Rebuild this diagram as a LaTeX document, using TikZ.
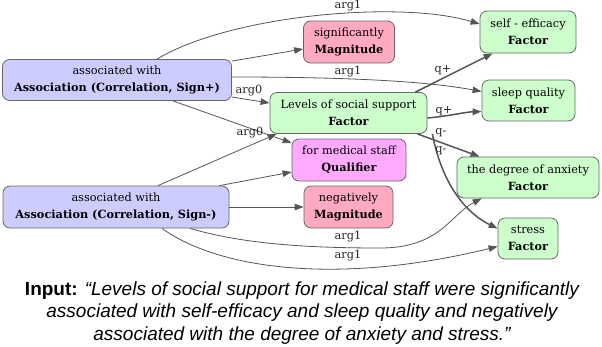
\documentclass[tikz,border=0pt]{standalone}
\usepackage{fontspec}
\setmainfont{DejaVu Serif}
\newfontfamily\capfont{Liberation Sans}
\usetikzlibrary{arrows.meta,calc}
\definecolor{assocblue}{HTML}{CCCCFF}
\definecolor{factgreen}{HTML}{CCFFCC}
\definecolor{magpink}{HTML}{FFAAC0}
\definecolor{qualpink}{HTML}{FFAAFF}
\definecolor{bordergrey}{HTML}{666666}
\definecolor{edgegrey}{HTML}{555555}
\begin{document}
\begin{tikzpicture}[x=1pt,y=-1pt,
 box/.style={draw=bordergrey, rounded corners=7pt, align=center, font=\fontsize{11.3}{17}\selectfont, inner sep=0pt, line width=0.8pt},
 assoc/.style={box, fill=assocblue},
 fact/.style={box, fill=factgreen},
 mag/.style={box, fill=magpink},
 qual/.style={box, fill=qualpink},
 edge/.style={draw=edgegrey, line width=0.8pt, -{Triangle[length=9pt,width=6.5pt]}},
 qedge/.style={edge, line width=1.5pt},
 lab/.style={font=\fontsize{11.3}{12}\selectfont, inner sep=0pt, text=black!85}
]
\useasboundingbox (0,0) rectangle (602,346);

\node[assoc, minimum width=229pt, minimum height=41pt] (A1) at (117,80) {associated with\\\textbf{Association (Correlation, Sign+)}};
\node[assoc, minimum width=226pt, minimum height=42pt] (A2) at (116,207) {associated with\\\textbf{Association (Correlation, Sign-)}};
\node[mag, minimum width=91pt, minimum height=42pt] (M1) at (349,42) {significantly\\\textbf{Magnitude}};
\node[fact, minimum width=96pt, minimum height=42pt] (SE) at (528,32) {self - efficacy\\\textbf{Factor}};
\node[fact, minimum width=93pt, minimum height=41pt] (SQ) at (528.5,100.5) {sleep quality\\\textbf{Factor}};
\node[fact, minimum width=157pt, minimum height=41pt] (L) at (348.5,113) {Levels of social support\\\textbf{Factor}};
\node[qual, minimum width=114pt, minimum height=42pt] (Q) at (349,160) {for medical staff\\\textbf{Qualifier}};
\node[mag, minimum width=89pt, minimum height=42pt] (M2) at (348.5,207) {negatively\\\textbf{Magnitude}};
\node[fact, minimum width=142pt, minimum height=41pt] (AX) at (528,177.5) {the degree of anxiety\\\textbf{Factor}};
\node[fact, minimum width=60pt, minimum height=41pt] (ST) at (528,238.5) {stress\\\textbf{Factor}};

% Association (Sign+)
\draw[edge] ($(A1.north)+(40,0)$) .. controls (230,15) and (400,0) .. ($(SE.west)+(0,-8)$)
  node[lab, at={(348,6)}] {arg1};
\draw[edge] ($(A1.north east)+(0,2)$) -- ($(M1.west)+(0,7)$);
\draw[edge] ($(A1.east)+(0,-3)$) .. controls (330,77) and (420,80) .. ($(SQ.west)+(0,-9)$)
  node[lab, at={(348,72)}] {arg1};
\draw[edge] ($(A1.east)+(0,17)$) -- ($(L.west)+(0,-10)$)
  node[lab, at={(249,91)}] {arg0};
\draw[edge] ($(A1.south)+(56,0)$) -- ($(Q.west)+(0,-17)$);

% Association (Sign-)
\draw[edge] ($(A2.north)+(42,0)$) -- ($(L.south west)+(7,0)$)
  node[lab, at={(250,133)}] {arg0};
\draw[edge] ($(A2.north east)+(-10,0)$) -- ($(Q.west)+(0,12)$);
\draw[edge] (A2.east) -- (M2.west);
\draw[edge] ($(A2.south)+(74,0)$) .. controls (240,243) and (300,248) .. (380,248)
  .. controls (440,248) and (450,215) .. ($(AX.south west)+(25,0)$)
  node[lab, at={(348,237)}] {arg1};
\draw[edge] ($(A2.south)+(46,0)$) .. controls (220,270) and (340,285) .. ($(ST.west)+(0,8)$)
  node[lab, at={(348,256)}] {arg1};

% Levels of social support
\draw[qedge] ($(L.north east)+(-12,0)$) -- ($(SE.south west)+(13,0)$)
  node[lab, at={(443,70)}] {q+};
\draw[qedge] ($(L.east)+(0,5)$) .. controls (450,116) and (465,112) .. ($(SQ.west)+(0,11)$)
  node[lab, at={(444,111)}] {q+};
\draw[qedge] ($(L.south east)+(-10,0)$) -- ($(AX.north west)+(23,0)$)
  node[lab, at={(441,133)}] {q-};
\draw[qedge] ($(L.south east)+(5,0)$) .. controls (440,175) and (460,210) .. ($(ST.west)+(0,-10)$)
  node[lab, at={(441,151)}] {q-};

% caption
\node[font=\capfont\itshape\fontsize{19}{22.5}\selectfont, align=center, inner sep=0pt] (cap) at (302,313)
 {\textbf{\upshape Input:} “Levels of social support for medical staff were significantly\\
 associated with self-efficacy and sleep quality and negatively\\
 associated with the degree of anxiety and stress.”};
\end{tikzpicture}
\end{document}
